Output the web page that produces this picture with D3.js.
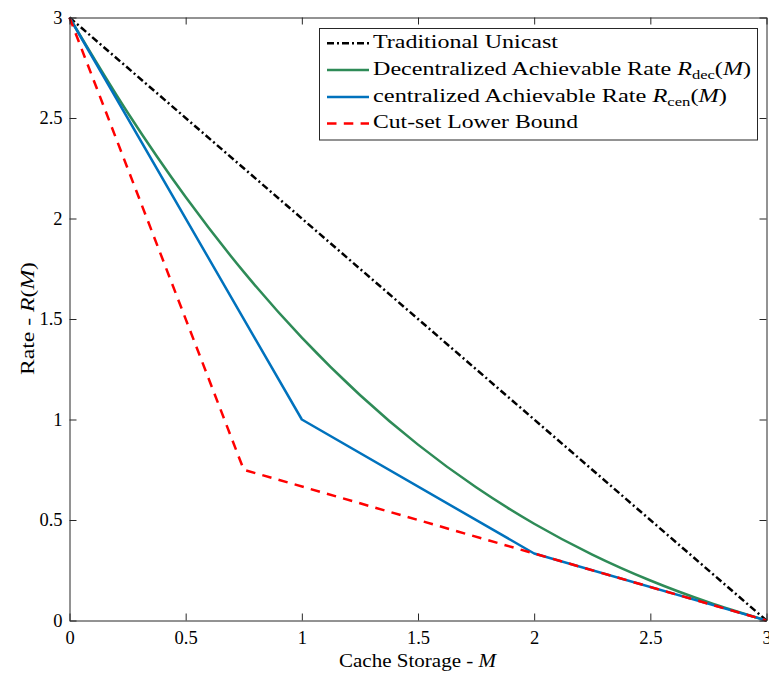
<!DOCTYPE html>
<html>
<head>
<meta charset="utf-8">
<script src="https://cdn.jsdelivr.net/npm/d3@7"></script>
<style>
  html, body { margin: 0; padding: 0; background: #fff; }
  svg { display: block; }
  text { font-family: "Liberation Serif", "DejaVu Serif", serif; fill: #000; }
</style>
</head>
<body>
<svg id="chart" width="769" height="675"></svg>
<script>
// Cache size M (x) and delivery rate R(M) (y) for each scheme
const unicastM = [0, 3];
const unicastR = [3, 0];

const decM = [0, 0.25, 0.5, 0.75, 1, 1.25, 1.5, 1.75, 2, 2.25, 2.5, 2.75, 3];
const decR = [3, 2.5272, 2.1065, 1.7344, 1.4074, 1.1221, 0.875, 0.6626, 0.4815, 0.3281, 0.1991, 0.0909, 0];

const cenM = [0, 1, 2, 3];
const cenR = [3, 1, 0.3333, 0];

const cutM = [0, 0.75, 2, 3];
const cutR = [3, 0.75, 0.3333, 0];

const xTicks = [0, 0.5, 1, 1.5, 2, 2.5, 3];
const yTicks = [0, 0.5, 1, 1.5, 2, 2.5, 3];

const seriesNames = ["Traditional Unicast", "Decentralized Achievable Rate", "centralized Achievable Rate", "Cut-set Lower Bound"];

const svg = d3.select("#chart");
const plotL = 69.5, plotR = 766.5, plotT = 17.5, plotB = 620.5;
const x = d3.scaleLinear().domain([0, 3]).range([plotL, plotR]);
const y = d3.scaleLinear().domain([0, 3]).range([plotB, plotT]);
const axisColor = "#262626";
const tickLen = 7;

// Series
const series = [
  { name: seriesNames[0], m: unicastM, r: unicastR, color: "#000000", dash: "7,3,2,3", sub: null, w: 185 },
  { name: seriesNames[1], m: decM, r: decR, color: "#2E8B57", dash: null, sub: "dec", w: 378 },
  { name: seriesNames[2], m: cenM, r: cenR, color: "#0072BD", dash: null, sub: "cen", w: 354 },
  { name: seriesNames[3], m: cutM, r: cutR, color: "#FF0000", dash: "9.5,7.3", sub: null, w: 205 }
];

const plot = svg.append("g");
series.forEach((s, i) => {
  const pts = s.m.map((v, j) => [v, s.r[j]]);
  const line = d3.line()
    .x(d => x(d[0])).y(d => y(d[1]))
    .curve(i === 1 ? d3.curveCatmullRom.alpha(0.5) : d3.curveLinear);
  plot.append("path")
    .attr("d", line(pts))
    .attr("fill", "none")
    .attr("stroke", s.color)
    .attr("stroke-width", 2.5)
    .attr("stroke-dasharray", s.dash)
    .attr("stroke-linejoin", "round");
});

// Axes (box with mirrored inward ticks)
const xAxisB = d3.axisBottom(x).tickValues(xTicks).tickSizeInner(-tickLen).tickSizeOuter(0).tickFormat(d3.format("~g"));
const xAxisT = d3.axisTop(x).tickValues(xTicks).tickSizeInner(-tickLen).tickSizeOuter(0).tickFormat("");
const yAxisL = d3.axisLeft(y).tickValues(yTicks).tickSizeInner(-tickLen).tickSizeOuter(0).tickFormat(d3.format("~g"));
const yAxisR = d3.axisRight(y).tickValues(yTicks).tickSizeInner(-tickLen).tickSizeOuter(0).tickFormat("");

function style(g) {
  g.select(".domain").attr("stroke", axisColor).attr("stroke-width", 1);
  g.selectAll(".tick line").attr("stroke", axisColor).attr("stroke-width", 1);
  g.selectAll(".tick text").attr("fill", "#000")
    .style("font-family", "'Liberation Serif', serif").style("font-size", "18.5px");
}
svg.append("g").attr("transform", `translate(0,${plotB})`).call(xAxisB).call(style)
  .selectAll(".tick text").attr("y", 10).attr("dy", "0.71em");
svg.append("g").attr("transform", `translate(0,${plotT})`).call(xAxisT).call(style);
svg.append("g").attr("transform", `translate(${plotL},0)`).call(yAxisL).call(style)
  .selectAll(".tick text").attr("x", -7).attr("dy", "0.32em");
svg.append("g").attr("transform", `translate(${plotR},0)`).call(yAxisR).call(style);

// Axis titles
const xt = svg.append("text").attr("x", 339).attr("y", 667).style("font-size", "19px")
  .attr("textLength", 157).attr("lengthAdjust", "spacingAndGlyphs");
xt.append("tspan").text("Cache Storage - ");
xt.append("tspan").style("font-style", "italic").text("M");

const yt = svg.append("text").attr("transform", "translate(34,375) rotate(-90)").style("font-size", "19px")
  .attr("textLength", 113).attr("lengthAdjust", "spacingAndGlyphs");
yt.append("tspan").text("Rate - ");
yt.append("tspan").style("font-style", "italic").text("R");
yt.append("tspan").text("(");
yt.append("tspan").style("font-style", "italic").text("M");
yt.append("tspan").text(")");

// Legend
const lg = svg.append("g");
lg.append("rect").attr("x", 319.5).attr("y", 28.5).attr("width", 438).attr("height", 111.5)
  .attr("fill", "#fff").attr("stroke", axisColor).attr("stroke-width", 1);
const rowY = [43.3, 70, 97, 123.5];
series.forEach((s, i) => {
  lg.append("line").attr("x1", 327).attr("x2", 369).attr("y1", rowY[i]).attr("y2", rowY[i])
    .attr("stroke", s.color).attr("stroke-width", 2.5).attr("stroke-dasharray", s.dash);
  const t = lg.append("text").attr("x", 373).attr("y", rowY[i] + 4.5).style("font-size", "19px")
    .attr("textLength", s.w).attr("lengthAdjust", "spacingAndGlyphs");
  t.append("tspan").text(s.name);
  if (s.sub) {
    t.append("tspan").text(" ");
    t.append("tspan").style("font-style", "italic").text("R");
    t.append("tspan").attr("dy", 4).style("font-size", "13px").text(s.sub);
    t.append("tspan").attr("dy", -4).text("(");
    t.append("tspan").style("font-style", "italic").text("M");
    t.append("tspan").text(")");
  }
});
</script>
</body>
</html>
